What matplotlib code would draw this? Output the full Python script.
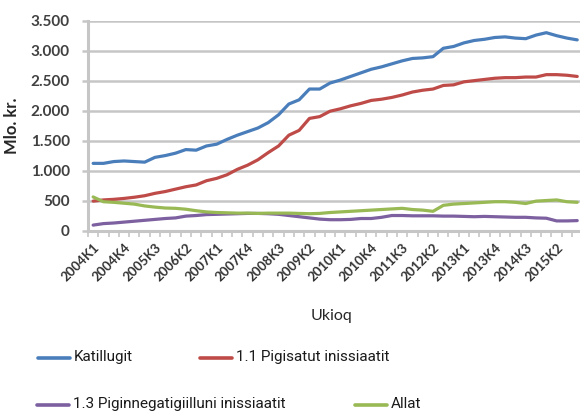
import matplotlib
matplotlib.use("Agg")
import matplotlib.pyplot as plt
from matplotlib.lines import Line2D
from matplotlib.ticker import FixedLocator, FuncFormatter

# Quarterly values, million kr., 2004K1 .. 2015K4
quarters = [f"{y}K{q}" for y in range(2004, 2016) for q in range(1, 5)]

katillugit = [1120, 1120, 1150, 1160, 1150, 1140, 1220, 1250, 1290, 1350,
              1340, 1410, 1440, 1520, 1590, 1650, 1710, 1800, 1930, 2110,
              2180, 2360, 2360, 2460, 2510, 2570, 2630, 2690, 2730, 2780,
              2830, 2870, 2880, 2900, 3040, 3070, 3130, 3170, 3190, 3220,
              3230, 3210, 3200, 3260, 3300, 3250, 3210, 3180]

pigisatut = [490, 510, 520, 535, 555, 580, 620, 650, 690, 730,
             760, 830, 870, 930, 1020, 1090, 1180, 1300, 1410, 1590,
             1670, 1870, 1900, 1990, 2030, 2080, 2120, 2170, 2190, 2220,
             2260, 2310, 2340, 2360, 2420, 2430, 2480, 2500, 2520, 2540,
             2550, 2550, 2560, 2560, 2600, 2600, 2590, 2570]

piginnegatigiilluni = [90, 115, 125, 140, 155, 170, 185, 200, 210, 240,
                       250, 265, 270, 275, 280, 285, 285, 280, 270, 250,
                       230, 210, 190, 180, 180, 185, 200, 200, 220, 250,
                       250, 245, 245, 245, 240, 240, 235, 230, 235, 230,
                       225, 220, 220, 210, 205, 160, 160, 165]

allat = [560, 480, 470, 455, 440, 410, 390, 375, 370, 355,
         330, 310, 300, 295, 290, 290, 285, 290, 290, 290,
         285, 280, 285, 300, 310, 320, 330, 340, 350, 360,
         370, 350, 340, 320, 420, 440, 450, 460, 470, 480,
         480, 470, 450, 490, 500, 510, 480, 470]

series_names = ["Katillugit", "1.1 Pigisatut inissiaatit",
                "1.3 Piginnegatigiilluni inissiaatit", "Allat"]
series_colors = ["#4a7ebb", "#be4b48", "#7d60a0", "#98b954"]
series_values = [katillugit, pigisatut, piginnegatigiilluni, allat]

y_ticks = [0, 500, 1000, 1500, 2000, 2500, 3000, 3500]

W, H = 580, 412
fig = plt.figure(figsize=(W / 100, H / 100), dpi=100)
ax = fig.add_axes([88 / W, 1 - 230.5 / H, 1 - 88 / W, (230.5 - 20.7) / H])

x = list(range(len(quarters)))
for vals, col in zip(series_values, series_colors):
    ax.plot(x, vals, color=col, lw=2.3, solid_capstyle="round", zorder=3)

ax.set_ylim(0, 3500)
ax.set_xlim(-0.5, 47.27)

grid_col = "#c6c6c6"
ax.set_yticks(y_ticks)
ax.yaxis.set_major_formatter(FuncFormatter(lambda v, p: f"{int(v):,}".replace(",", ".")))
ax.grid(axis="y", color=grid_col, lw=1.8, zorder=0)
ax.set_axisbelow(True)

for s in ["top", "right"]:
    ax.spines[s].set_visible(False)
ax.spines["left"].set_color(grid_col)
ax.spines["left"].set_linewidth(2.2)
ax.spines["bottom"].set_color(grid_col)
ax.spines["bottom"].set_linewidth(2.2)

ax.tick_params(axis="y", length=4, width=1.8, color=grid_col, pad=9,
               labelsize=11, labelcolor="#404040")
for lab in ax.get_yticklabels():
    lab.set_fontweight("bold")
    lab.set_family("Lato")

# category boundaries get tick marks, every third quarter gets a label
ax.xaxis.set_minor_locator(FixedLocator([i - 0.5 for i in range(len(quarters) + 1)]))
ax.set_xticks(x[::3])
ax.set_xticklabels(quarters[::3], rotation=45, ha="right", va="top",
                   rotation_mode="anchor", fontsize=9.5, fontweight="bold",
                   color="#333333", family="Lato")
ax.tick_params(axis="x", which="major", length=0, pad=8)
ax.tick_params(axis="x", which="minor", length=4, width=1.2, color=grid_col)

ax.set_ylabel("Mlo. kr.", fontsize=12, fontweight="bold", color="#262626",
              family="Lato", labelpad=8)
fig.text(331 / W, 1 - 316 / H, "Ukioq", ha="center", va="center",
         fontsize=11.5, color="#262626", family="Lato")

# legend drawn in figure coordinates
legend_pos = [(38, 358), (200, 358), (37, 405), (355, 405)]
for (lx, ly), name, col in zip(legend_pos, series_names, series_colors):
    fig.add_artist(Line2D([lx / W, (lx + 32) / W], [1 - ly / H, 1 - ly / H],
                          color=col, lw=2.6, solid_capstyle="round"))
    fig.text((lx + 36) / W, 1 - (ly - 1) / H, name, ha="left", va="center",
             fontsize=11, color="#1a1a1a", family="Roboto")

fig.savefig("out.png", dpi=100, facecolor="white")
